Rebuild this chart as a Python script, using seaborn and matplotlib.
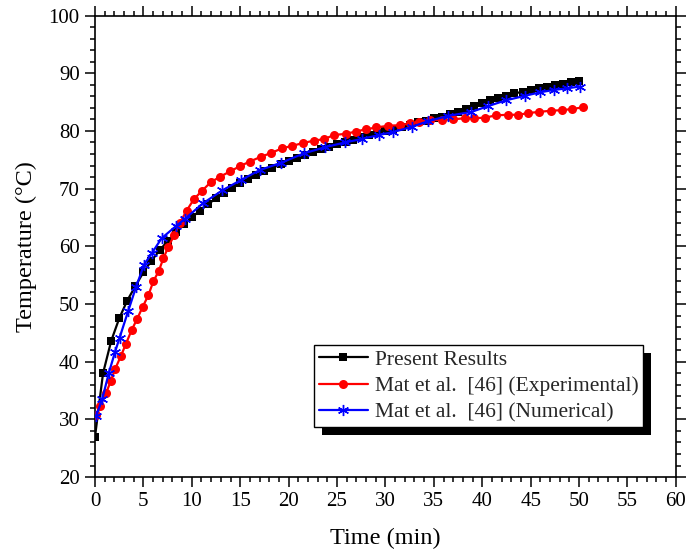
import matplotlib
matplotlib.use("Agg")
import matplotlib.pyplot as plt
from matplotlib.patches import Rectangle
from matplotlib.ticker import MultipleLocator
import seaborn as sns
import pandas as pd

# ---- data ----
present_t = [0.0, 0.83, 1.67, 2.5, 3.33, 4.17, 5.0, 5.83, 6.67, 7.5, 8.33, 9.17, 10.0, 10.83,
             11.67, 12.5, 13.33, 14.17, 15.0, 15.83, 16.67, 17.5, 18.33, 19.17, 20.0, 20.83,
             21.67, 22.5, 23.33, 24.17, 25.0, 25.83, 26.67, 27.5, 28.33, 29.17, 30.0, 30.83,
             31.67, 32.5, 33.33, 34.17, 35.0, 35.83, 36.67, 37.5, 38.33, 39.17, 40.0, 40.83,
             41.67, 42.5, 43.33, 44.17, 45.0, 45.83, 46.67, 47.5, 48.33, 49.17, 50.0]
present_T = [27.0, 38.0, 43.6, 47.5, 50.6, 53.1, 55.5, 57.5, 59.3, 60.9, 62.4, 63.8, 65.0, 66.2,
             67.3, 68.3, 69.2, 70.1, 70.9, 71.6, 72.3, 73.0, 73.6, 74.2, 74.8, 75.3,
             75.8, 76.3, 76.8, 77.3, 77.7, 78.1, 78.5, 78.9, 79.3, 79.7, 80.0, 80.4,
             80.7, 81.1, 81.5, 81.8, 82.2, 82.5, 82.9, 83.3, 83.8, 84.3, 84.8, 85.3,
             85.7, 86.1, 86.5, 86.8, 87.1, 87.4, 87.7, 87.9, 88.2, 88.4, 88.6]

exp_t = [0.1, 0.56, 1.13, 1.62, 2.07, 2.68, 3.17, 3.79, 4.35, 4.92, 5.51, 6.02, 6.58, 7.06, 7.57,
         8.2, 8.78, 9.47, 10.23, 11.04, 11.95, 12.96, 13.97, 14.98, 16.0, 17.11, 18.22, 19.34,
         20.35, 21.46, 22.58, 23.69, 24.7, 25.92, 26.93, 28.04, 29.06, 30.27, 31.49, 32.5, 33.51,
         34.62, 35.84, 36.95, 38.17, 39.18, 40.29, 41.41, 42.62, 43.74, 44.75, 45.86, 47.08,
         48.19, 49.3, 50.42]
exp_T = [30.8, 32.4, 34.5, 36.6, 38.7, 41.0, 43.0, 45.5, 47.4, 49.5, 51.5, 53.9, 55.7, 57.9, 59.9,
         62.0, 64.1, 66.2, 68.2, 69.6, 71.1, 72.1, 73.0, 73.9, 74.7, 75.5, 76.2, 77.0, 77.4,
         77.9, 78.3, 78.6, 79.3, 79.5, 79.9, 80.3, 80.6, 80.9, 81.0, 81.3, 81.6, 81.9, 81.9,
         82.0, 82.2, 82.2, 82.3, 82.7, 82.8, 82.8, 83.1, 83.3, 83.5, 83.6, 83.8, 84.1]

num_t = [0.1, 0.76, 1.42, 2.07, 2.53, 3.41, 4.23, 5.06, 5.87, 6.88, 8.37, 9.31, 11.19, 13.16,
         15.08, 17.01, 19.24, 21.56, 23.79, 25.82, 27.54, 29.36, 30.78, 32.7, 34.42, 36.45,
         38.88, 40.6, 42.42, 44.44, 45.96, 47.38, 48.8, 50.11]
num_T = [30.5, 33.6, 38.0, 41.7, 44.1, 48.7, 52.9, 56.8, 58.8, 61.4, 63.5, 64.8, 67.5, 69.7, 71.5,
         73.2, 74.5, 76.1, 77.2, 78.0, 78.6, 79.3, 79.8, 80.7, 81.7, 82.6, 83.3, 84.3, 85.3,
         86.1, 86.7, 87.1, 87.4, 87.7]

labels = ["Present Results", "Mat et al.  [46] (Experimental)", "Mat et al.  [46] (Numerical)"]

sns.set_theme(style="ticks")
plt.rcParams["font.family"] = ["Liberation Serif", "DejaVu Serif"]

fig = plt.figure(figsize=(6.89, 5.56), dpi=100)
ax = fig.add_axes([0.1379, 0.142, 0.843, 0.830])

df1 = pd.DataFrame({"t": present_t, "T": present_T})
df2 = pd.DataFrame({"t": exp_t, "T": exp_T})
df3 = pd.DataFrame({"t": num_t, "T": num_T})

sns.lineplot(data=df1, x="t", y="T", ax=ax, color="black", lw=1.6, marker="s", markersize=5.5,
             markeredgewidth=0, sort=False, estimator=None, label=labels[0], zorder=3)
sns.lineplot(data=df2, x="t", y="T", ax=ax, color="#ff0000", lw=1.6, marker="o", markersize=6.5,
             markeredgewidth=0, sort=False, estimator=None, label=labels[1], zorder=4)
sns.lineplot(data=df3, x="t", y="T", ax=ax, color="#0000ff", lw=1.6, marker=(6, 2, 0), markersize=8,
             markeredgewidth=1.0, markeredgecolor="#0000ff", sort=False, estimator=None,
             label=labels[2], zorder=5)

ax.set_xlim(0, 60)
ax.set_ylim(20, 100)
ax.xaxis.set_major_locator(MultipleLocator(5))
ax.xaxis.set_minor_locator(MultipleLocator(1))
ax.yaxis.set_major_locator(MultipleLocator(10))
ax.yaxis.set_minor_locator(MultipleLocator(2))
ax.tick_params(which="both", direction="out", top=True, right=True, width=1.1, color="black",
               labeltop=False, labelright=False, labelsize=15, pad=4, labelcolor="black")
ax.tick_params(which="major", length=7)
ax.tick_params(which="minor", length=3.3)
for s in ax.spines.values():
    s.set_visible(True)
    s.set_linewidth(1.2)
    s.set_color("black")

ax.set_xlabel("Time (min)", fontsize=17.5, labelpad=12, color="black")
ax.set_ylabel("Temperature (°C)", fontsize=17.5, labelpad=8, color="black")

leg = ax.legend(loc="lower right", bbox_to_anchor=(0.943, 0.108), fontsize=15.5, frameon=True,
                fancybox=False, edgecolor="black", framealpha=1, handlelength=2.3,
                handletextpad=0.3, borderpad=0.2, labelspacing=0.3, borderaxespad=0)
leg.get_frame().set_linewidth(1.0)
leg.set_zorder(10)

fig.canvas.draw()
bb = leg.get_window_extent()
off = 8
inv = fig.transFigure.inverted()
x0, y0 = inv.transform((bb.x0 + off, bb.y0 - off))
x1, y1 = inv.transform((bb.x1 + off, bb.y1 - off))
shadow = Rectangle((x0, y0), x1 - x0, y1 - y0, transform=fig.transFigure, facecolor="black",
                   edgecolor="none", zorder=9)
ax.add_artist(shadow)
shadow.set_clip_on(False)

fig.savefig("out.png", dpi=100)
